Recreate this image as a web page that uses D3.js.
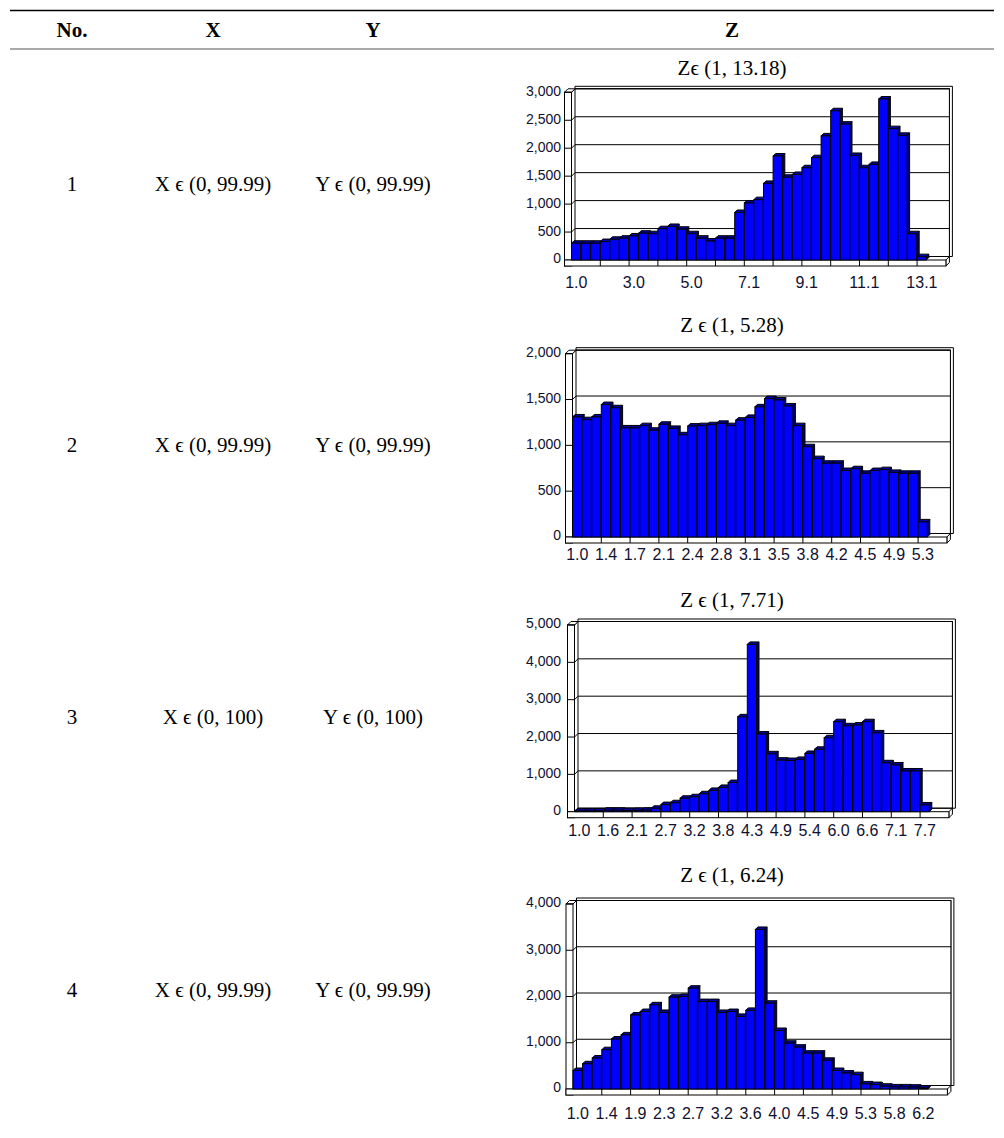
<!DOCTYPE html>
<html>
<head>
<meta charset="utf-8">
<script src="https://cdn.jsdelivr.net/npm/d3@7"></script>
<style>
  body { margin: 0; background: #fff; }
  .serif { font-family: "Palatino Linotype", Palatino, "Liberation Serif", serif; }
  .axis text { font-family: Arial, "Liberation Sans", sans-serif; fill: #101030; }
</style>
</head>
<body>
<div id="chart"></div>
<script>
// table rows
var rowNo = ["1", "2", "3", "4"];
var rowX = ["X ϵ (0, 99.99)", "X ϵ (0, 99.99)", "X ϵ (0, 100)", "X ϵ (0, 99.99)"];
var rowY = ["Y ϵ (0, 99.99)", "Y ϵ (0, 99.99)", "Y ϵ (0, 100)", "Y ϵ (0, 99.99)"];
var titles = ["Zϵ (1, 13.18)", "Z ϵ (1, 5.28)", "Z ϵ (1, 7.71)", "Z ϵ (1, 6.24)"];

// histogram counts
var z1 = [300, 300, 300, 330, 370, 390, 430, 480, 470, 560, 600, 550, 470, 390, 340, 390, 390,
  850, 1020, 1080, 1370, 1860, 1480, 1530, 1650, 1830, 2220, 2670, 2430, 1870, 1650, 1710,
  2880, 2350, 2230, 470, 60];
var z2 = [1310, 1280, 1310, 1445, 1410, 1190, 1190, 1215, 1165, 1230, 1185, 1115, 1210, 1215,
  1225, 1240, 1215, 1275, 1305, 1420, 1510, 1495, 1430, 1215, 985, 855, 805, 805, 725, 745,
  695, 725, 735, 705, 695, 695, 165];
var z3 = [15, 15, 20, 40, 40, 30, 35, 40, 90, 190, 240, 360, 400, 480, 570, 650, 780, 2540,
  4480, 2080, 1550, 1380, 1370, 1400, 1560, 1670, 1980, 2410, 2300, 2320, 2410, 2110, 1310,
  1250, 1090, 1090, 180];
var z4 = [400, 545, 670, 850, 1080, 1170, 1600, 1675, 1820, 1655, 1985, 2000, 2180, 1890, 1890,
  1655, 1675, 1570, 1700, 3450, 1855, 1265, 990, 905, 775, 775, 620, 400, 345, 310, 110, 95,
  60, 45, 45, 40, 20];

// category labels
var lab1 = ["1.0", "3.0", "5.0", "7.1", "9.1", "11.1", "13.1"];
var lab2 = ["1.0", "1.4", "1.7", "2.1", "2.4", "2.8", "3.1", "3.5", "3.8", "4.2", "4.5", "4.9", "5.3"];
var lab3 = ["1.0", "1.6", "2.1", "2.7", "3.2", "3.8", "4.3", "4.9", "5.4", "6.0", "6.6", "7.1", "7.7"];
var lab4 = ["1.0", "1.4", "1.9", "2.3", "2.7", "3.2", "3.6", "4.0", "4.5", "4.9", "5.3", "5.8", "6.2"];

var yMax = [3000, 2000, 5000, 4000];
var yStep = [500, 500, 1000, 1000];

var W = 1004, H = 1138;
var svg = d3.select("#chart").append("svg")
  .attr("width", W)
  .attr("height", H);

// ---- table ----
svg.append("line").attr("x1", 10).attr("x2", 994).attr("y1", 10.5).attr("y2", 10.5)
  .attr("stroke", "#000").attr("stroke-width", 1.5);
svg.append("line").attr("x1", 10).attr("x2", 994).attr("y1", 49).attr("y2", 49)
  .attr("stroke", "#555").attr("stroke-width", 1);

var colX = [72, 213, 373, 732];
["No.", "X", "Y", "Z"].forEach(function(h, i) {
  svg.append("text").attr("class", "serif")
    .attr("x", colX[i]).attr("y", 30)
    .attr("text-anchor", "middle").attr("dominant-baseline", "central")
    .attr("font-size", 21).attr("font-weight", "bold")
    .text(h);
});

var rowMid = [184, 445, 717, 990];
rowNo.forEach(function(n, i) {
  [n, rowX[i], rowY[i]].forEach(function(t, j) {
    svg.append("text").attr("class", "serif")
      .attr("x", colX[j]).attr("y", rowMid[i])
      .attr("text-anchor", "middle").attr("dominant-baseline", "central")
      .attr("font-size", 21)
      .text(t);
  });
});

// ---- 3D column charts ----
var charts = [
  { vals: z1, labels: lab1, every: 6, x0: 571.5, zero: 260, top: 92.3, titleY: 68, labY: 286 },
  { vals: z2, labels: lab2, every: 3, x0: 572.5, zero: 537, top: 353.7, titleY: 325, labY: 558 },
  { vals: z3, labels: lab3, every: 3, x0: 574.5, zero: 811.7, top: 625, titleY: 600, labY: 834 },
  { vals: z4, labels: lab4, every: 3, x0: 573, zero: 1089, top: 904, titleY: 875, labY: 1117 }
];

var slots = 39, slotW = 9.6, d = 3.5, slab = 7, floorH = 6, bd = 2.5;

function poly(g, pts, fill) {
  return g.append("polygon")
    .attr("points", pts.map(function(p) { return p.join(","); }).join(" "))
    .attr("fill", fill).attr("stroke", "#000").attr("stroke-width", 1)
    .attr("stroke-linejoin", "round");
}

charts.forEach(function(c, ci) {
  var g = svg.append("g");
  var x1 = c.x0 + slots * slotW;
  var x = d3.scaleBand().domain(d3.range(slots)).range([c.x0, x1]);
  var y = d3.scaleLinear().domain([0, yMax[ci]]).range([c.zero, c.top]);
  var ticks = d3.range(0, yMax[ci] + 1, yStep[ci]);

  g.append("text").attr("class", "serif")
    .attr("x", 732).attr("y", c.titleY)
    .attr("text-anchor", "middle").attr("dominant-baseline", "central")
    .attr("font-size", 21)
    .text(titles[ci]);

  // back wall with its thin edge
  poly(g, [[c.x0 + d, c.top - d - 2.5], [x1 + d + 3, c.top - d - 2.5], [x1 + d + 3, c.zero - d],
    [x1 + d, c.zero - d], [x1 + d, c.top - d], [c.x0 + d, c.top - d]], "#fff");
  g.append("rect").attr("x", c.x0 + d).attr("y", c.top - d)
    .attr("width", x1 - c.x0).attr("height", c.zero - c.top)
    .attr("fill", "#fff").attr("stroke", "#000");

  // gridlines on back wall and left wall
  ticks.forEach(function(t) {
    g.append("line").attr("x1", c.x0 + d).attr("x2", x1 + d)
      .attr("y1", y(t) - d).attr("y2", y(t) - d).attr("stroke", "#000");
    g.append("line").attr("x1", c.x0).attr("x2", c.x0 + d)
      .attr("y1", y(t)).attr("y2", y(t) - d).attr("stroke", "#000");
  });

  // left wall slab
  poly(g, [[c.x0 - slab, c.top], [c.x0 - slab + d, c.top - d], [c.x0 + d, c.top - d], [c.x0, c.top]], "#fff");
  g.append("rect").attr("x", c.x0 - slab).attr("y", c.top)
    .attr("width", slab).attr("height", c.zero + floorH - c.top)
    .attr("fill", "#fff").attr("stroke", "#000");
  ticks.forEach(function(t) {
    g.append("line").attr("x1", c.x0 - slab).attr("x2", c.x0)
      .attr("y1", y(t)).attr("y2", y(t)).attr("stroke", "#000");
  });

  // floor slab
  poly(g, [[x1, c.zero], [x1 + d, c.zero - d], [x1 + d, c.zero - d + floorH], [x1, c.zero + floorH]], "#fff");
  g.append("rect").attr("x", c.x0 - slab).attr("y", c.zero)
    .attr("width", x1 - c.x0 + slab).attr("height", floorH)
    .attr("fill", "#fff").attr("stroke", "#000");
  d3.range(3, slots, 3).forEach(function(k) {
    g.append("line").attr("x1", x(k)).attr("x2", x(k))
      .attr("y1", c.zero).attr("y2", c.zero + floorH).attr("stroke", "#000");
  });

  // bars, left to right
  var bw = x.bandwidth() - 0.4;
  c.vals.forEach(function(v, i) {
    var bx = x(i), by = y(v);
    poly(g, [[bx + bw, by], [bx + bw + bd, by - bd], [bx + bw + bd, c.zero - bd], [bx + bw, c.zero]], "#000070");
    poly(g, [[bx, by], [bx + bd, by - bd], [bx + bw + bd, by - bd], [bx + bw, by]], "#0000a8");
    g.append("rect").attr("x", bx).attr("y", by)
      .attr("width", bw).attr("height", c.zero - by)
      .attr("fill", "#0000ff").attr("stroke", "#000").attr("stroke-width", 1);
  });

  // value axis labels
  g.append("g").attr("class", "axis")
    .attr("transform", "translate(561,-1.5)")
    .call(d3.axisLeft(y).tickValues(ticks).tickFormat(d3.format(",")).tickSize(0).tickPadding(0))
    .call(function(a) { a.select(".domain").remove(); })
    .selectAll("text").attr("font-size", 14);

  // category labels
  var shown = d3.range(0, c.vals.length, c.every);
  g.append("g").attr("class", "axis")
    .attr("transform", "translate(0," + (c.labY - 9) + ")")
    .call(d3.axisBottom(x).tickValues(shown)
      .tickFormat(function(k) { return c.labels[k / c.every]; })
      .tickSize(0).tickPadding(0))
    .call(function(a) { a.select(".domain").remove(); })
    .selectAll("text").attr("font-size", 16);
});
</script>
</body>
</html>
